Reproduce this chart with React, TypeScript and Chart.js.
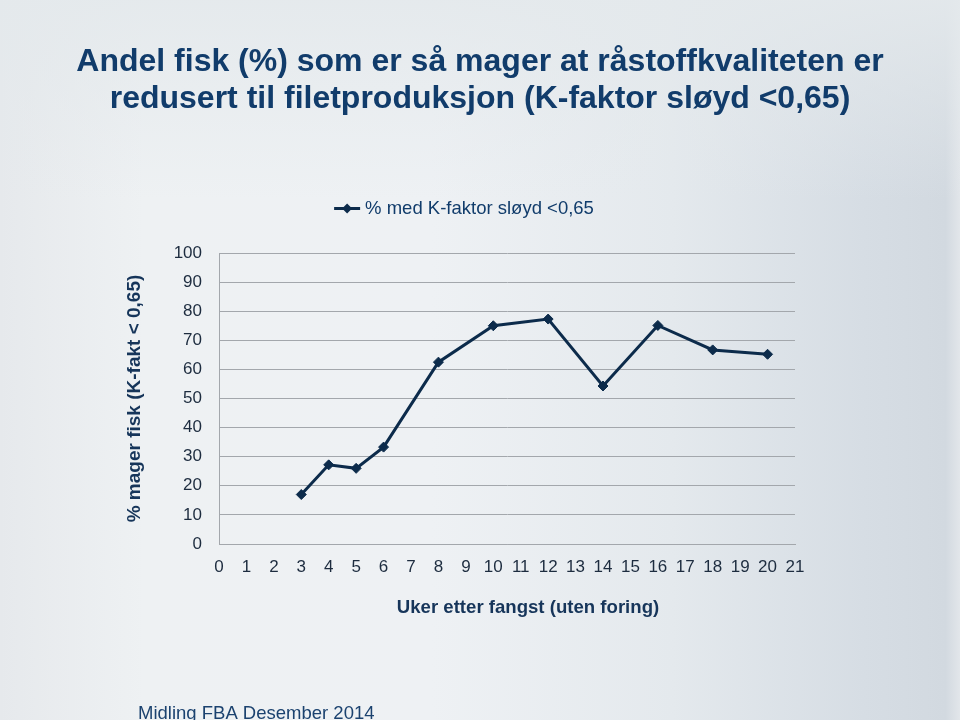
import React, { useEffect, useRef } from "react";
import { Chart, registerables } from "chart.js";

Chart.register(...registerables);

// ---------- data ----------
const titleLines = [
  "Andel fisk (%) som er så mager at råstoffkvaliteten er",
  "redusert til filetproduksjon (K-faktor sløyd <0,65)",
];
const seriesLabel = "% med K-faktor sløyd <0,65";
const weeks = [3, 4, 5, 6, 8, 10, 12, 14, 16, 18, 20];
const percentLean = [17, 27.2, 26, 33.3, 62.5, 75, 77.3, 54.3, 75.1, 66.7, 65.2];
const xAxisTitle = "Uker etter fangst (uten foring)";
const yAxisTitle = "% mager fisk (K-fakt < 0,65)";
const footerText = "Midling FBA Desember 2014";
const xRange = [0, 21];
const yRange = [0, 100];
const yStep = 10;
const xStep = 1;

// ---------- styles ----------
const FONT = '"Liberation Sans", Arial, Helvetica, sans-serif';
const NAVY = "#113c6b";
const LINE = "#0c2b4b";
const TICK = "#1d2c3f";
const GRID = "#a3a7ac";

const backgroundPlugin = {
  id: "slideBackground",
  beforeDraw(chart: any) {
    const { ctx, width, height } = chart;
    ctx.save();
    const g = ctx.createLinearGradient(0, 0, width, 0);
    g.addColorStop(0, "#e6e9ec");
    g.addColorStop(0.15, "#eef1f3");
    g.addColorStop(0.45, "#eef1f4");
    g.addColorStop(0.7, "#e4e9ed");
    g.addColorStop(0.9, "#d6dde4");
    g.addColorStop(0.985, "#d2d9e0");
    g.addColorStop(1, "#e2e6ea");
    ctx.fillStyle = g;
    ctx.fillRect(0, 0, width, height);
    const v = ctx.createLinearGradient(0, 0, 0, 200);
    v.addColorStop(0, "rgba(228,233,236,0.9)");
    v.addColorStop(1, "rgba(228,233,236,0)");
    ctx.fillStyle = v;
    ctx.fillRect(0, 0, width, 200);
    ctx.restore();
  },
};

const decorationsPlugin = {
  id: "slideDecorations",
  afterDraw(chart: any) {
    const { ctx } = chart;
    const ds = chart.data.datasets[0];
    ctx.save();
    // legend
    ctx.font = `18.5px ${FONT}`;
    const label = ds.label as string;
    const tw = ctx.measureText(label).width;
    const markerW = 26;
    const gap = 5;
    const total = markerW + gap + tw;
    const cx = 464;
    const ly = 208.5;
    const lx = cx - total / 2;
    ctx.strokeStyle = ds.borderColor;
    ctx.lineWidth = 3;
    ctx.beginPath();
    ctx.moveTo(lx, ly);
    ctx.lineTo(lx + markerW, ly);
    ctx.stroke();
    ctx.fillStyle = ds.borderColor;
    const mx = lx + markerW / 2;
    const r = 5;
    ctx.beginPath();
    ctx.moveTo(mx, ly - r);
    ctx.lineTo(mx + r, ly);
    ctx.lineTo(mx, ly + r);
    ctx.lineTo(mx - r, ly);
    ctx.closePath();
    ctx.fill();
    ctx.fillStyle = NAVY;
    ctx.textBaseline = "middle";
    ctx.textAlign = "left";
    ctx.fillText(label, lx + markerW + gap, ly);

    // x axis title
    ctx.font = `bold 18.6px ${FONT}`;
    ctx.fillStyle = "#16355a";
    ctx.textAlign = "center";
    ctx.fillText(xAxisTitle, 528, 607.5);

    // footer
    ctx.font = `18.5px ${FONT}`;
    ctx.fillStyle = "#1b426f";
    ctx.textAlign = "left";
    ctx.textBaseline = "alphabetic";
    ctx.fillText(footerText, 138, 719);
    ctx.restore();
  },
};

export default function App() {
  const canvasRef = useRef<HTMLCanvasElement | null>(null);

  useEffect(() => {
    document.body.style.margin = "0";
    const canvas = canvasRef.current;
    if (!canvas) return;
    const chart = new Chart(canvas, {
      type: "line",
      data: {
        datasets: [
          {
            label: seriesLabel,
            data: weeks.map((w, i) => ({ x: w, y: percentLean[i] })),
            borderColor: LINE,
            backgroundColor: LINE,
            borderWidth: 3,
            pointStyle: "rectRot",
            pointRadius: 5,
            pointBorderWidth: 1,
            pointBackgroundColor: LINE,
            pointBorderColor: LINE,
            tension: 0,
            xAxisID: "x",
            yAxisID: "y",
          },
        ],
      },
      options: {
        responsive: false,
        animation: false,
        layout: { padding: { top: 0, left: 0, right: 0, bottom: 76 } },
        font: { family: FONT },
        plugins: {
          title: {
            display: true,
            text: titleLines,
            color: NAVY,
            font: { family: FONT, size: 32, weight: "bold", lineHeight: 37 / 32 },
            padding: { top: 43.4, bottom: 135.6 },
          },
          legend: { display: false },
          tooltip: { enabled: false },
        },
        scales: {
          x: {
            type: "linear",
            position: "bottom",
            min: xRange[0],
            max: xRange[1],
            ticks: {
              stepSize: xStep,
              autoSkip: false,
              maxRotation: 0,
              padding: 13,
              color: TICK,
              font: { family: FONT, size: 17 },
            },
            grid: { color: "rgba(0,0,0,0)", drawTicks: false },
            border: { color: GRID, width: 1 },
            title: { display: false, text: xAxisTitle },
            afterFit(scale: any) {
              scale.height = 100;
            },
          },
          y: {
            type: "linear",
            position: "left",
            min: yRange[0],
            max: yRange[1],
            ticks: {
              stepSize: yStep,
              padding: 17,
              color: TICK,
              font: { family: FONT, size: 17 },
            },
            grid: { color: GRID, lineWidth: 1, drawTicks: false },
            border: { color: GRID, width: 1 },
            title: {
              display: true,
              text: yAxisTitle,
              color: "#16355a",
              font: { family: FONT, size: 19, weight: "bold" },
              padding: { top: 123, bottom: 0 },
            },
            afterFit(scale: any) {
              scale.width = 219;
            },
          },
          rightSpace: {
            type: "linear",
            position: "right",
            display: true,
            ticks: { display: false },
            grid: { display: false, drawTicks: false },
            border: { display: false },
            afterFit(scale: any) {
              scale.width = 165;
            },
          },
        },
      } as any,
      plugins: [backgroundPlugin, decorationsPlugin],
    });
    return () => chart.destroy();
  }, []);

  return (
    <div style={{ position: "fixed", left: 0, top: 0, width: 960, height: 720 }}>
      <canvas ref={canvasRef} width={960} height={720} style={{ width: 960, height: 720, display: "block" }} />
    </div>
  );
}
